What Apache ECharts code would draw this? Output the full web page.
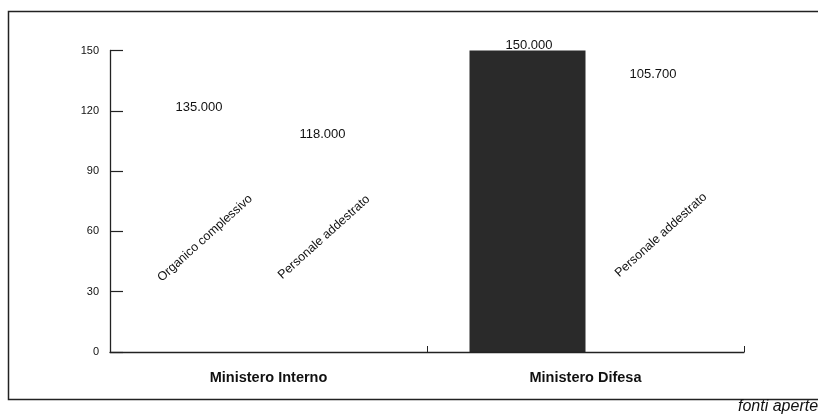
<!DOCTYPE html>
<html>
<head>
<meta charset="utf-8">
<script src="https://cdn.jsdelivr.net/npm/echarts@6/dist/echarts.min.js"></script>
<style>
html,body{margin:0;padding:0;background:#fff;}
#chart{width:818px;height:414px;}
</style>
</head>
<body>
<div id="chart"></div>
<script>
// Data (thousands of personnel)
const categories = ['Ministero Interno', 'Ministero Difesa'];
const seriesNames = ['Organico complessivo', 'Personale addestrato'];
const organico = [135, 150];
const addestrato = [118, 105.7];
const yTicks = [0, 30, 60, 90, 120, 150];
const sourceNote = 'fonti aperte';

function fmt(v) {
  return String(Math.round(v * 1000)).replace(/\B(?=(\d{3})+(?!\d))/g, '.');
}

const FONT = '"Liberation Sans", Arial, Helvetica, sans-serif';
const TXT = '#111';
const GHOST = 'rgba(255,255,255,0)';   // bars that vanished in the scan (white on white)
const DARK = '#2a2a2a';

// per-item style config (colors / label placement)
const orgColors = [GHOST, DARK];
const addColors = [GHOST, GHOST];
const orgValOffset = [[-11.5, 38], [1.5, 6]];
const addValOffset = [[-4, 31], [9.5, -54]];
const orgNameOffset = [[-18.7, 12.6], null];
const addNameOffset = [[-4.4, 1.2], [20.1, 3.8]];

function valueSeries(name, values, colors, offsets) {
  return {
    name: name,
    type: 'bar',
    xAxisIndex: 0,
    barWidth: 116,
    barGap: '0%',
    data: values.map((v, i) => ({
      value: v,
      itemStyle: { color: colors[i] },
      label: { offset: offsets[i] }
    })),
    label: {
      show: true,
      position: 'top',
      distance: 5,
      formatter: p => fmt(p.value),
      fontFamily: FONT,
      fontSize: 13,
      color: TXT
    },
    silent: true
  };
}

function nameSeries(name, values, offsets) {
  return {
    name: name + ' ',
    type: 'bar',
    xAxisIndex: 1,
    barWidth: 116,
    barGap: '0%',
    itemStyle: { color: 'rgba(0,0,0,0)' },
    data: values.map((v, i) => ({
      value: v,
      label: offsets[i] ? { show: true, offset: offsets[i] } : { show: false }
    })),
    label: {
      show: true,
      position: 'inside',
      rotate: 42,
      formatter: name,
      fontFamily: FONT,
      fontSize: 12.5,
      color: TXT
    },
    silent: true,
    z: 5
  };
}

const chart = echarts.init(document.getElementById('chart'), null, { renderer: 'canvas' });

const xBase = {
  type: 'category',
  data: categories,
  boundaryGap: true
};

chart.setOption({
  animation: false,
  backgroundColor: '#fff',
  grid: { left: 110, right: 74, top: 50.5, bottom: 62 },
  xAxis: [
    Object.assign({}, xBase, {
      z: 6,
      axisLine: { show: true, lineStyle: { color: '#222', width: 1.3 } },
      axisTick: { show: true, inside: true, length: 6, lineStyle: { color: '#222', width: 1 } },
      axisLabel: {
        margin: 18,
        fontFamily: FONT,
        fontSize: 14.5,
        fontWeight: 'bold',
        color: TXT
      },
      splitLine: { show: false }
    }),
    Object.assign({}, xBase, {
      show: false
    })
  ],
  yAxis: {
    type: 'value',
    z: 6,
    min: yTicks[0],
    max: yTicks[yTicks.length - 1],
    interval: yTicks[1] - yTicks[0],
    axisLine: { show: true, lineStyle: { color: '#222', width: 1.3 } },
    axisTick: { show: true, inside: true, length: 13, lineStyle: { color: '#222', width: 1.2 } },
    axisLabel: {
      margin: 11,
      fontFamily: FONT,
      fontSize: 11,
      color: TXT
    },
    splitLine: { show: false }
  },
  series: [
    valueSeries(seriesNames[0], organico, orgColors, orgValOffset),
    valueSeries(seriesNames[1], addestrato, addColors, addValOffset),
    nameSeries(seriesNames[0], organico, orgNameOffset),
    nameSeries(seriesNames[1], addestrato, addNameOffset)
  ],
  graphic: [
    {
      type: 'rect',
      shape: { x: 8.5, y: 11.5, width: 850, height: 388 },
      style: { fill: null, stroke: '#222', lineWidth: 1.5 },
      silent: true
    },
    {
      type: 'text',
      x: 738, y: 399,
      style: {
        text: sourceNote,
        font: 'italic 16px ' + FONT,
        fill: TXT,
        textVerticalAlign: 'top'
      },
      silent: true
    }
  ]
});
</script>
</body>
</html>
